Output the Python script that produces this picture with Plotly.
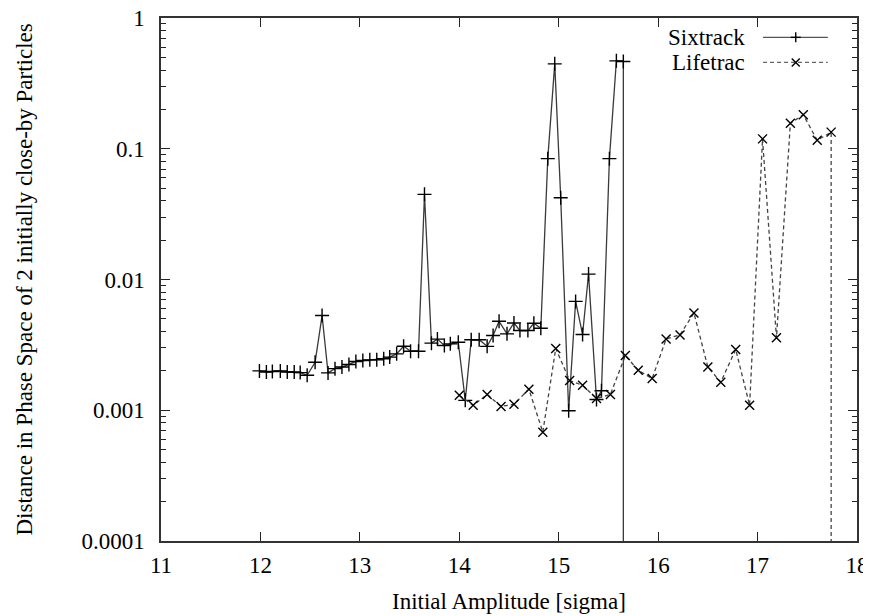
import plotly.graph_objects as go

# Sixtrack: distance vs initial amplitude (last point drops to ~0)
six_x = [11.99, 12.06, 12.12, 12.20, 12.27, 12.34, 12.40, 12.47, 12.55, 12.62,
         12.68, 12.75, 12.82, 12.89, 12.96, 13.03, 13.10, 13.17, 13.24, 13.30,
         13.37, 13.44, 13.51, 13.59, 13.65, 13.72, 13.78, 13.85, 13.91, 13.99,
         14.06, 14.12, 14.20, 14.28, 14.34, 14.40, 14.48, 14.55, 14.61, 14.69,
         14.75, 14.82, 14.89, 14.96, 15.02, 15.10, 15.17, 15.24, 15.30, 15.38,
         15.43, 15.51, 15.58, 15.65, 15.65]
six_y = [0.0020, 0.00196, 0.00198, 0.0020, 0.00196, 0.00196, 0.00194, 0.00185, 0.00233, 0.0053,
         0.00193, 0.00208, 0.00214, 0.00224, 0.00236, 0.0024, 0.00243, 0.00243, 0.00248, 0.00255,
         0.0027, 0.00309, 0.00283, 0.00283, 0.0448, 0.00326, 0.0035, 0.00313, 0.00322, 0.00331,
         0.00119, 0.00346, 0.00346, 0.00308, 0.00373, 0.00479, 0.00384, 0.00465, 0.00407, 0.00407,
         0.00463, 0.00424, 0.084, 0.446, 0.0422, 0.00099, 0.0068, 0.0038, 0.011, 0.00121,
         0.00141, 0.084, 0.47, 0.465, 1e-12]

# Lifetrac
life_x = [14.00, 14.14, 14.28, 14.42, 14.55, 14.70, 14.84, 14.97, 15.11, 15.24,
          15.38, 15.52, 15.67, 15.80, 15.94, 16.08, 16.22, 16.36, 16.50, 16.63,
          16.78, 16.92, 17.05, 17.19, 17.33, 17.46, 17.60, 17.74, 17.74]
life_y = [0.0013, 0.00109, 0.00132, 0.00107, 0.00111, 0.00145, 0.00068, 0.00297, 0.00169, 0.00155,
          0.00123, 0.00132, 0.00262, 0.00202, 0.00175, 0.00351, 0.00377, 0.00555, 0.00214, 0.00164,
          0.00292, 0.00109, 0.119, 0.00358, 0.157, 0.182, 0.116, 0.134, 1e-12]

x_ticks = [11, 12, 13, 14, 15, 16, 17, 18]
y_ticks = [0.0001, 0.001, 0.01, 0.1, 1]
y_labels = ["0.0001", "0.001", "0.01", "0.1", "1"]

FONT = "Liberation Serif, DejaVu Serif, Times New Roman, serif"
FS = 23

fig = go.Figure()

fig.add_trace(go.Scatter(
    x=six_x, y=six_y, mode="lines+markers", name="Sixtrack",
    line=dict(color="#3a3a3a", width=1.3),
    marker=dict(symbol="cross-thin", size=10, line=dict(color="black", width=1.4)),
    showlegend=False,
))

fig.add_trace(go.Scatter(
    x=life_x, y=life_y, mode="lines+markers", name="Lifetrac",
    line=dict(color="#444444", width=1.3, dash="4px,3px"),
    marker=dict(symbol="x-thin", size=9, line=dict(color="black", width=1.4)),
    showlegend=False,
))

# hand-made gnuplot style key: text, then line sample with marker
KX, K1, K2 = 0.912, 0.963, 0.915
shapes = [
    dict(type="line", xref="paper", yref="paper", x0=0.865, x1=0.958, y0=K1, y1=K1,
         line=dict(color="#555", width=1.3)),
    dict(type="line", xref="paper", yref="paper", x0=0.865, x1=0.958, y0=K2, y1=K2,
         line=dict(color="#666", width=1.3, dash="4px,3px")),
    dict(type="line", xref="paper", yref="paper", xsizemode="pixel", ysizemode="pixel",
         xanchor=KX, yanchor=K1, x0=-5, x1=5, y0=0, y1=0, line=dict(color="black", width=1.4)),
    dict(type="line", xref="paper", yref="paper", xsizemode="pixel", ysizemode="pixel",
         xanchor=KX, yanchor=K1, x0=0, x1=0, y0=-5, y1=5, line=dict(color="black", width=1.4)),
    dict(type="line", xref="paper", yref="paper", xsizemode="pixel", ysizemode="pixel",
         xanchor=KX, yanchor=K2, x0=-4, x1=4, y0=-4, y1=4, line=dict(color="black", width=1.4)),
    dict(type="line", xref="paper", yref="paper", xsizemode="pixel", ysizemode="pixel",
         xanchor=KX, yanchor=K2, x0=-4, x1=4, y0=4, y1=-4, line=dict(color="black", width=1.4)),
]

txt = dict(family=FONT, size=FS, color="black")
annotations = [
    dict(text="Sixtrack", xref="paper", yref="paper", x=0.842, y=K1,
         xanchor="right", yanchor="middle", showarrow=False, font=txt),
    dict(text="Lifetrac", xref="paper", yref="paper", x=0.842, y=K2,
         xanchor="right", yanchor="middle", showarrow=False, font=txt),
    dict(text="Initial Amplitude [sigma]", xref="paper", yref="paper", x=0.5, y=0,
         xanchor="center", yanchor="middle", yshift=-60, showarrow=False, font=txt),
    dict(text="Distance in Phase Space of 2 initially close-by Particles", xref="paper", yref="paper",
         x=0, y=0.5, xanchor="center", yanchor="middle", xshift=-137, textangle=-90,
         showarrow=False, font=txt),
]

# page body has an 8px margin, so the figure is 8px smaller each way
fig.update_layout(
    width=863, height=608,
    margin=dict(l=153, r=14, t=10, b=75),
    plot_bgcolor="white", paper_bgcolor="white",
    font=txt,
    shapes=shapes, annotations=annotations,
    showlegend=False,
)

fig.update_xaxes(
    range=[11, 18], tickvals=x_ticks, ticktext=[str(v) for v in x_ticks],
    ticks="inside", ticklen=9, tickcolor="#222", tickwidth=1.2, ticklabelstandoff=3,
    ticklabeloverflow="allow",
    showline=True, linecolor="#333", linewidth=1.5, mirror="ticks",
    showgrid=False, zeroline=False, automargin=False,
)

fig.update_yaxes(
    type="log", range=[-4, 0], tickvals=y_ticks, ticktext=y_labels,
    ticks="inside", ticklen=9, tickcolor="#222", tickwidth=1.2, ticklabelstandoff=10,
    ticklabeloverflow="allow",
    minor=dict(ticks="inside", ticklen=5, tickcolor="#222", dtick="D1", showgrid=False),
    showline=True, linecolor="#333", linewidth=1.5, mirror="ticks",
    showgrid=False, zeroline=False, automargin=False,
)

fig.write_html("out.html")
